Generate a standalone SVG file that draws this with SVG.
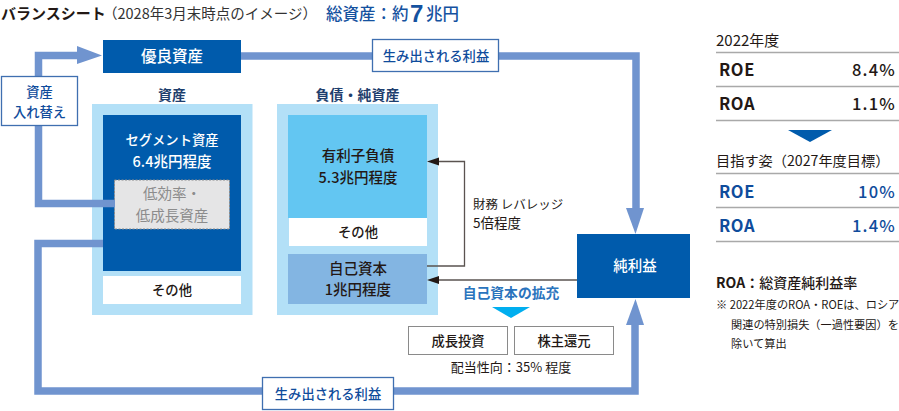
<svg xmlns="http://www.w3.org/2000/svg" width="899" height="411" viewBox="0 0 899 411">
<style>
text{font-family:"Noto Sans CJK JP","Noto Sans",sans-serif;fill:#231815}
.m{text-anchor:middle}
.b{font-weight:700}
.w{fill:#fff}
.n{fill:#0f4c9c}
.t{font-size:13.300px;font-weight:500}
.l{font-size:14.500px;font-weight:500}
.f{fill:#7094cf}
.r{fill:none;stroke:#7094cf;stroke-width:7.5}
.lbl{fill:#fff;stroke:#3f6fb0;stroke-width:1.3}
.thin{fill:none;stroke:#5a5350;stroke-width:1.3}
.a{fill:#231815}
.g{stroke:#a9a9a9;stroke-width:1.5}
.big{font-size:16.5px;font-weight:700;letter-spacing:.6px}
.pct{font-size:16.5px;font-weight:500;text-anchor:end;letter-spacing:1.2px}
.ttl{fill:#15529f;font-size:16.500px;font-weight:500}
</style>
<g id="title">
<text x="1" y="19" font-size="15" font-weight="700">バランスシート</text>
<text x="103" y="19" font-size="14.500" style="fill:#333">（2028年3月末時点のイメージ）</text>
<text x="326" y="20" class="ttl">総資産：約</text>
<text x="410" y="22" class="ttl" style="font-family:'Liberation Sans',sans-serif;font-size:24px;font-weight:700">7</text>
<text x="426" y="20" class="ttl">兆円</text>
</g>
<g id="node-yuryo"><rect x="103" y="40" width="138" height="33" fill="#005bac"/><text x="172" y="62" class="m w" style="font-size:15.500px;font-weight:500">優良資産</text></g>
<g id="assets">
<text x="172" y="100" class="m b" font-size="14" style="fill:#1f3f6e">資産</text>
<rect x="92" y="104" width="160.500" height="211" fill="#b3e0f7"/>
<rect x="103" y="115" width="138" height="156" fill="#005bac"/>
<text x="172" y="145" class="m t w b">セグメント資産</text>
<text x="172" y="167" class="m l w">6.4兆円程度</text>
<rect x="114.500" y="180" width="115" height="49" fill="#e5e5e6" stroke="#8a8a8a" stroke-dasharray="2 1.500"/>
<text x="172" y="199" class="m" font-size="14.500" style="fill:#8c8c8c">低効率・</text>
<text x="172" y="221" class="m" font-size="14.500" style="fill:#8c8c8c">低成長資産</text>
<rect x="103" y="276" width="138" height="28" fill="#fff"/>
<text x="172" y="295" class="m t b">その他</text>
</g>
<g id="liabilities">
<text x="357.500" y="100" class="m b" font-size="14" style="fill:#1f3f6e">負債・純資産</text>
<rect x="277" y="104" width="161" height="211" fill="#b3e0f7"/>
<rect x="288" y="115" width="139" height="103" fill="#63c6f2"/>
<text x="358" y="161" class="m l">有利子負債</text>
<text x="358" y="183" class="m l">5.3兆円程度</text>
<rect x="289" y="218" width="138" height="28" fill="#fff"/>
<text x="358" y="237" class="m t b">その他</text>
<rect x="288" y="254" width="139" height="50" fill="#83b5e2"/>
<text x="358" y="274" class="m l">自己資本</text>
<text x="358" y="295" class="m l">1兆円程度</text>
</g>
<g id="node-netincome"><rect x="577" y="234" width="113" height="64" fill="#005bac"/><text x="635" y="271" class="m l w">純利益</text></g>
<g id="connectors">
<path class="r" d="M241 56H636V209"/>
<path class="f" d="M626 208H644L635.5 234Z"/>
<path class="r" d="M115 203.500H38.500V55.500H78"/>
<path class="f" d="M77 46L102 55.500L77 64Z"/>
<path class="r" d="M103 243.500H38V391H635V325"/>
<path class="f" d="M626 325H644L635.500 299Z"/>
<path class="thin" d="M427 266H464.500V161.500H436"/>
<path class="a" d="M427 161.500L439 157.500V165.500Z"/>
<path class="thin" d="M577 280H436"/>
<path class="a" d="M427 280L439 276V284Z"/>
</g>
<g id="label-profit-top"><rect class="lbl" x="372.500" y="39.500" width="126" height="32"/><text x="436" y="61" class="m t n b">生み出される利益</text></g>
<g id="label-swap"><rect class="lbl" x="1.500" y="76.500" width="76" height="49"/><text x="39.500" y="97" class="m t n b">資産</text><text x="39.500" y="117" class="m t n b">入れ替え</text></g>
<g id="leverage"><text x="473" y="209" font-size="12.500">財務 レバレッジ</text><text x="473" y="228" font-size="13.500">5倍程度</text></g>
<g id="expansion">
<text x="511" y="298" class="m b" font-size="13.800" style="fill:#2a74bd">自己資本の拡充</text>
<path d="M492 307H530L511 318Z" fill="#00aeef"/>
</g>
<g id="node-invest"><rect x="408.500" y="326.500" width="99" height="28" fill="#fff" stroke="#8a8a8a"/><text x="458" y="346" class="m t b">成長投資</text></g>
<g id="node-return"><rect x="514.500" y="326.500" width="99" height="28" fill="#fff" stroke="#8a8a8a"/><text x="564" y="346" class="m t b">株主還元</text></g>
<text x="511" y="372" class="m" font-size="13">配当性向：35% 程度</text>
<g id="label-profit-bottom"><rect class="lbl" x="262.500" y="377.500" width="131" height="32"/><text x="328" y="399" class="m t n b">生み出される利益</text></g>
<g id="kpi-table">
<text x="716" y="46" font-size="15">2022年度</text>
<path class="g" d="M716 52.500H899M716 86.500H899M716 120.500H899M716 173.500H899M716 207.500H899M716 241.500H899"/>
<text x="719" y="76" class="big">ROE</text><text x="896" y="76" class="pct">8.4%</text>
<text x="719" y="110" class="big">ROA</text><text x="896" y="110" class="pct">1.1%</text>
<path d="M788 130H832L810 142Z" fill="#005bac"/>
<text x="716" y="166" font-size="14.200">目指す姿（2027年度目標）</text>
<text x="719" y="198" class="big n">ROE</text><text x="896" y="198" class="pct n">10%</text>
<text x="719" y="232" class="big n">ROA</text><text x="896" y="232" class="pct n">1.4%</text>
</g>
<g id="note">
<text x="716" y="288" font-size="14" font-weight="700">ROA：<tspan font-weight="500">総資産純利益率</tspan></text>
<text x="716" y="309" font-size="11.200">※ 2022年度のROA・ROEは、ロシア</text>
<text x="731" y="329" font-size="11.200">関連の特別損失（一過性要因）を</text>
<text x="731" y="348" font-size="11.200">除いて算出</text>
</g>
</svg>
